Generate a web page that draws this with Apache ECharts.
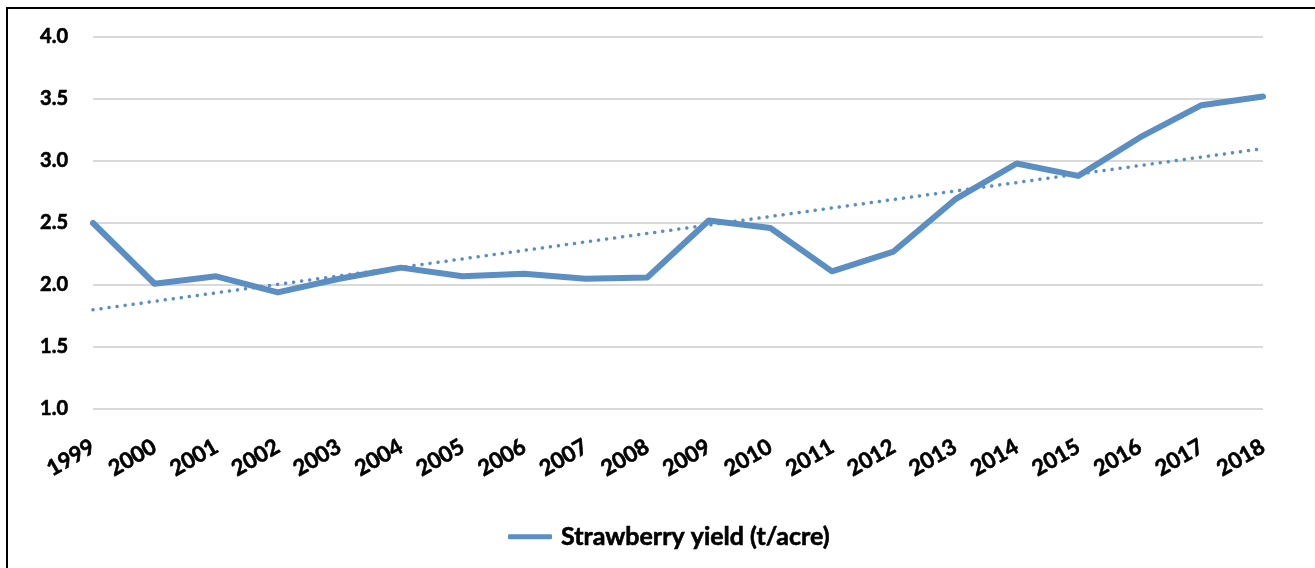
<!DOCTYPE html>
<html>
<head>
<meta charset="utf-8">
<title>Strawberry yield</title>
<script src="https://cdn.jsdelivr.net/npm/echarts@6/dist/echarts.min.js"></script>
<style>
  html, body { margin: 0; padding: 0; background: #ffffff; }
  #chart { width: 1315px; height: 568px; }
</style>
</head>
<body>
<div id="chart"></div>
<script>
// Years on the category axis
const years = ['1999','2000','2001','2002','2003','2004','2005','2006','2007','2008',
               '2009','2010','2011','2012','2013','2014','2015','2016','2017','2018'];
// Strawberry yield, tonnes per acre
const yieldValues = [2.50, 2.01, 2.07, 1.94, 2.05, 2.14, 2.07, 2.09, 2.05, 2.06,
                     2.52, 2.46, 2.11, 2.27, 2.69, 2.98, 2.88, 3.19, 3.45, 3.52];
// Linear trend endpoints (first and last year)
const trendEnds = [1.80, 3.10];
// Value axis ticks
const yTicks = [1.0, 1.5, 2.0, 2.5, 3.0, 3.5, 4.0];

const seriesName = 'Strawberry yield (t/acre)';
const lineColor = '#5b8ec3';
const font = 'Lato, "Open Sans", sans-serif';
// a thin outline in the text colour makes the bold labels a touch heavier
const heavy = { textBorderColor: '#000000', textBorderWidth: 0.6 };

const trendData = years.map((y, i) =>
  i === 0 ? trendEnds[0] : (i === years.length - 1 ? trendEnds[1] : '-'));

const chart = echarts.init(document.getElementById('chart'), null, { renderer: 'canvas' });
chart.setOption({
  animation: false,
  backgroundColor: '#ffffff',
  graphic: [{
    type: 'rect',
    shape: { x: 7, y: 8, width: 1400, height: 700 },
    style: { fill: 'none', stroke: '#000000', lineWidth: 2 },
    silent: true
  }],
  grid: { left: 93, right: 52, top: 37, bottom: 159, containLabel: false },
  legend: {
    data: [seriesName],
    top: 519,
    left: 503,
    icon: 'roundRect',
    itemWidth: 44,
    itemHeight: 5,
    itemGap: 12,
    textStyle: Object.assign({ fontFamily: font, fontWeight: 'bold', fontSize: 25, color: '#000000', padding: [0, 0, 0, 4] }, heavy)
  },
  xAxis: {
    type: 'category',
    data: years,
    boundaryGap: false,
    axisLine: { show: false },
    axisTick: { show: false },
    splitLine: { show: false },
    axisLabel: Object.assign({
      rotate: 30,
      margin: 36,
      interval: 0,
      color: '#000000',
      fontFamily: font,
      fontWeight: 'bold',
      fontSize: 22
    }, heavy)
  },
  yAxis: {
    type: 'value',
    min: yTicks[0],
    max: yTicks[yTicks.length - 1],
    interval: 0.5,
    axisLine: { show: false },
    axisTick: { show: false },
    splitLine: { lineStyle: { color: '#d9d9d9', width: 2 } },
    axisLabel: Object.assign({
      margin: 25,
      color: '#000000',
      fontFamily: font,
      fontWeight: 'bold',
      fontSize: 20,
      formatter: v => v.toFixed(1)
    }, heavy)
  },
  series: [
    {
      name: seriesName,
      type: 'line',
      data: yieldValues,
      symbol: 'none',
      lineStyle: { color: lineColor, width: 6, join: 'round', cap: 'round' },
      itemStyle: { color: lineColor },
      z: 2
    },
    {
      name: 'trend',
      type: 'line',
      data: trendData,
      connectNulls: true,
      symbol: 'none',
      lineStyle: { color: lineColor, width: 3.5, type: [0.1, 8], cap: 'round' },
      itemStyle: { color: lineColor },
      z: 3
    }
  ]
});
</script>
</body>
</html>
